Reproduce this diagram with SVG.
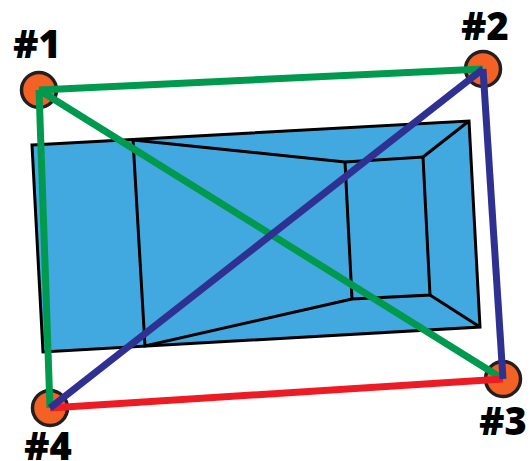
<svg xmlns="http://www.w3.org/2000/svg" width="530" height="461" viewBox="0 0 530 461">
<style>
.room{fill:#42a9e0;stroke:#000;stroke-width:3;stroke-linejoin:miter}
.edge{fill:none;stroke:#000;stroke-width:3;stroke-linejoin:miter}
.pt{fill:#f36224;stroke:#231f20;stroke-width:3.5}
.c{fill:none;stroke-width:7}
.g{stroke:#009a4e}.b{stroke:#2e3192}.r{stroke:#ed1c24}
text{font-family:"Open Sans","Noto Sans","DejaVu Sans",sans-serif;font-weight:800;font-size:38px;fill:#000;text-anchor:middle}
</style>
<g id="room">
<polygon class="room" points="32,145 469,121 480,327 43,352"/>
<polyline class="edge" points="133,140 145,346 352,299 430,295 423,157 345,162 133,140"/>
<line class="edge" x1="345" y1="162" x2="352" y2="299"/>
<line class="edge" x1="423" y1="157" x2="469" y2="121"/>
<line class="edge" x1="430" y1="295" x2="480" y2="327"/>
</g>
<g id="node1"><circle class="pt" cx="39" cy="90" r="17.5"/><text x="37" y="58">#1</text></g>
<g id="node2"><circle class="pt" cx="483" cy="69" r="17.5"/><text x="485" y="40">#2</text></g>
<g id="node3"><circle class="pt" cx="503" cy="379" r="17.5"/><text x="503" y="435">#3</text></g>
<g id="node4"><circle class="pt" cx="50" cy="408" r="17.5"/><text x="48" y="460">#4</text></g>
<g id="connectors">
<line class="c g" x1="39" y1="90" x2="483" y2="69"/>
<line class="c g" x1="39" y1="90" x2="50" y2="408"/>
<line class="c g" x1="39" y1="90" x2="503" y2="379"/>
<line class="c r" x1="50" y1="408" x2="503" y2="379"/>
<line class="c b" x1="50" y1="408" x2="483" y2="69"/>
<line class="c b" x1="483" y1="69" x2="503" y2="379"/>
</g>
</svg>
